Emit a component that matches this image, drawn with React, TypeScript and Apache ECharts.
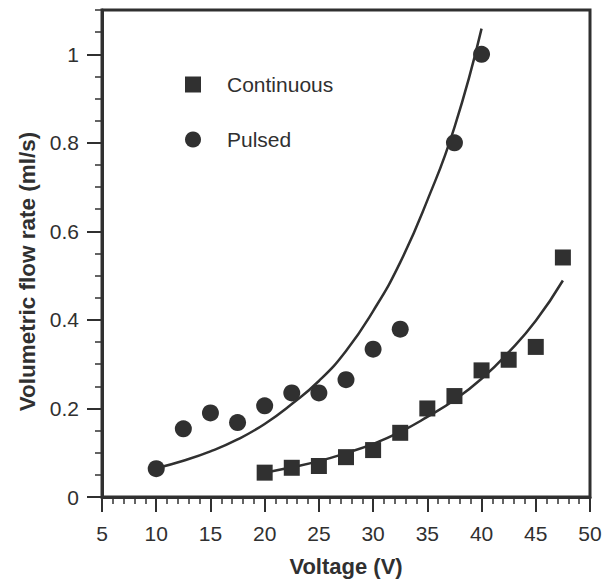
import React, { useEffect, useRef } from "react";
import * as echarts from "echarts";

const voltages = [10, 12.5, 15, 17.5, 20, 22.5, 25, 27.5, 30, 32.5, 37.5, 40];
const pulsedFlow = [0.064, 0.154, 0.19, 0.168, 0.206, 0.235, 0.235, 0.265, 0.334, 0.379, 0.8, 1.0];

const contVoltages = [20, 22.5, 25, 27.5, 30, 32.5, 35, 37.5, 40, 42.5, 45, 47.5];
const contFlow = [0.055, 0.066, 0.07, 0.09, 0.106, 0.145, 0.2, 0.228, 0.286, 0.31, 0.339, 0.541];

const pulsedFitX = [10, 12.5, 15, 17.5, 20, 22.5, 25, 27.5, 30, 32.5, 35, 37.5, 40];
const pulsedFitY = [0.065, 0.082, 0.103, 0.13, 0.165, 0.21, 0.262, 0.33, 0.42, 0.53, 0.67, 0.835, 1.058];

const contFitX = [20, 22.5, 25, 27.5, 30, 32.5, 35, 37.5, 40, 42.5, 45, 47.5];
const contFitY = [0.055, 0.067, 0.081, 0.099, 0.12, 0.147, 0.181, 0.219, 0.267, 0.327, 0.398, 0.489];

const yMajorTicks = [0, 0.2, 0.4, 0.6, 0.8, 1];
const yMinorTicks = [0.05, 0.1, 0.15, 0.25, 0.3, 0.35, 0.45, 0.5, 0.55, 0.65, 0.7, 0.75, 0.85, 0.9, 0.95, 1.05, 1.1];

const INK = "#303030";
const FONT = "'Liberation Sans', Arial, Helvetica, sans-serif";

export default function App() {
  const ref = useRef<HTMLDivElement>(null);
  useEffect(() => {
    if (!ref.current) return;
    const chart = echarts.init(ref.current, null, { renderer: "svg" });
    const zip = (xs: number[], ys: number[]) => xs.map((x, i) => [x, ys[i]]);
    chart.setOption({
      animation: false,
      backgroundColor: "#ffffff",
      textStyle: { fontFamily: FONT },
      grid: {
        left: 102,
        top: 10,
        right: 23,
        bottom: 86,
        show: true,
        borderColor: INK,
        borderWidth: 3,
        backgroundColor: "transparent",
      },
      legend: {
        show: true,
        orient: "vertical",
        left: 180,
        top: 69,
        itemWidth: 16,
        itemHeight: 16,
        itemGap: 34,
        data: [
          { name: "Continuous", icon: "rect" },
          { name: "Pulsed", icon: "circle" },
        ],
        textStyle: { fontSize: 21, color: INK, fontFamily: FONT, padding: [0, 0, 0, 21] },
      },
      xAxis: {
        type: "value",
        min: 5,
        max: 50,
        interval: 5,
        name: "Voltage (V)",
        nameLocation: "middle",
        nameGap: 58,
        nameTextStyle: { fontSize: 22, fontWeight: "bold", color: INK, fontFamily: FONT },
        axisLine: { show: true, lineStyle: { color: INK, width: 3 } },
        axisTick: { show: true, inside: false, length: 15, lineStyle: { color: INK, width: 2 } },
        minorTick: { show: true, splitNumber: 5, length: 7, lineStyle: { color: INK, width: 1.5 } },
        axisLabel: { fontSize: 21, color: INK, margin: 26, fontFamily: FONT },
        splitLine: { show: false },
      },
      yAxis: [
        {
          type: "value",
          min: 0,
          max: 1.1,
          interval: 0.2,
          position: "left",
          name: "Volumetric flow rate (ml/s)",
          nameLocation: "middle",
          nameGap: 62,
          nameTextStyle: {
            fontSize: 22.5,
            fontWeight: "bold",
            color: INK,
            fontFamily: FONT,
            padding: [0, 36, 0, 0],
          },
          axisLine: { show: true, lineStyle: { color: INK, width: 3 } },
          axisTick: { show: true, inside: false, length: 15, customValues: yMajorTicks, lineStyle: { color: INK, width: 2 } },
          axisLabel: {
            fontSize: 21,
            color: INK,
            margin: 23,
            fontFamily: FONT,
            customValues: yMajorTicks,
            formatter: (v: number) => (Math.abs(v - 1) < 1e-9 ? "1" : String(Math.round(v * 10) / 10)),
          },
          splitLine: { show: false },
        },
        {
          type: "value",
          min: 0,
          max: 1.1,
          interval: 0.2,
          position: "left",
          offset: 0,
          axisLine: { show: false },
          axisTick: { show: true, inside: false, length: 7, customValues: yMinorTicks, lineStyle: { color: INK, width: 1.5 } },
          axisLabel: { show: false },
          splitLine: { show: false },
        },
      ],
      series: [
        {
          name: "Pulsed fit",
          type: "line",
          data: zip(pulsedFitX, pulsedFitY),
          smooth: true,
          showSymbol: false,
          symbol: "none",
          lineStyle: { color: INK, width: 2.5 },
          z: 2,
        },
        {
          name: "Continuous fit",
          type: "line",
          data: zip(contFitX, contFitY),
          smooth: true,
          showSymbol: false,
          symbol: "none",
          lineStyle: { color: INK, width: 2.5 },
          z: 2,
        },
        {
          name: "Continuous",
          type: "scatter",
          symbol: "rect",
          symbolSize: 16,
          data: zip(contVoltages, contFlow),
          itemStyle: { color: INK, opacity: 1 },
          z: 3,
        },
        {
          name: "Pulsed",
          type: "scatter",
          symbol: "circle",
          symbolSize: 17,
          data: zip(voltages, pulsedFlow),
          itemStyle: { color: INK, opacity: 1 },
          z: 3,
        },
      ],
    });
    return () => chart.dispose();
  }, []);
  return <div ref={ref} style={{ width: 613, height: 583, position: "absolute", left: 0, top: 0 }} />;
}
